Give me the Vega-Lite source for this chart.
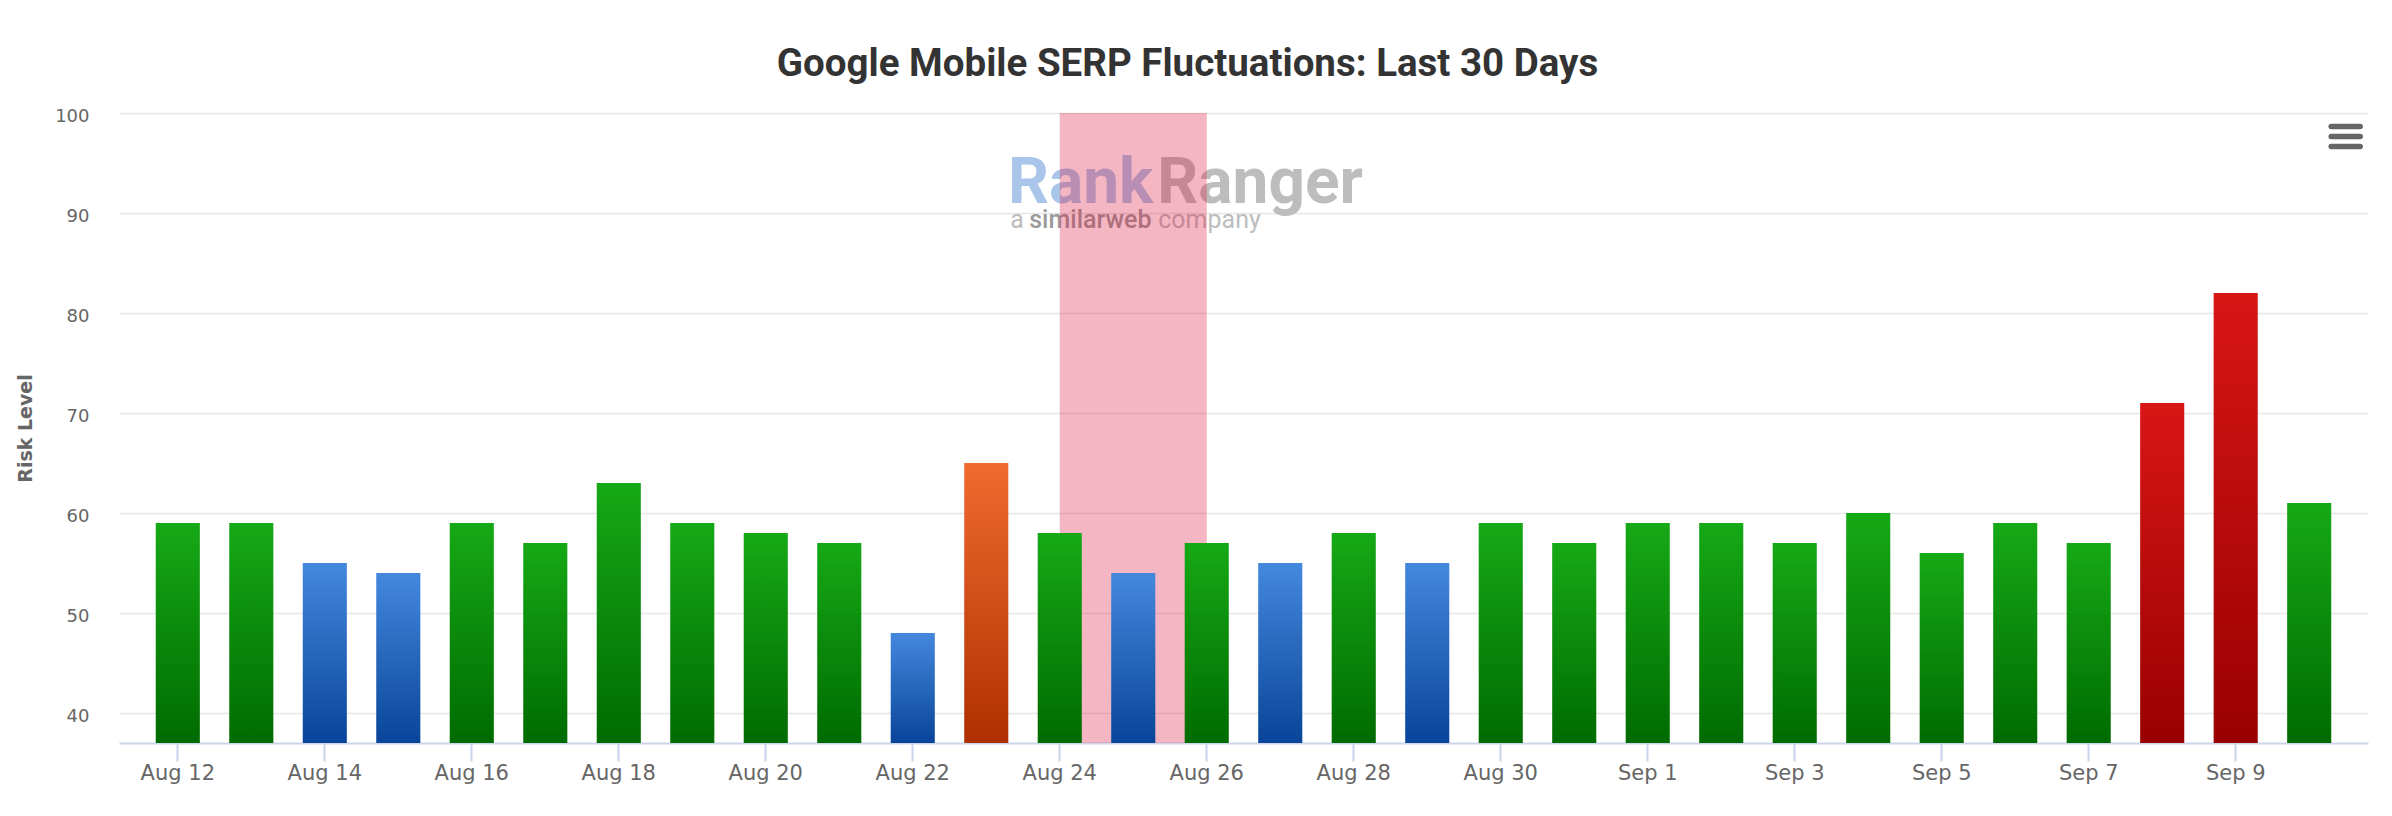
{
  "$schema": "https://vega.github.io/schema/vega-lite/v6.json",
  "width": 2249,
  "height": 630,
  "autosize": "none",
  "padding": {"left": 119, "top": 113, "right": 24, "bottom": 73},
  "background": "white",
  "title": {
    "text": "Google Mobile SERP Fluctuations: Last 30 Days",
    "font": "Roboto",
    "fontSize": 38.5,
    "fontWeight": "bold",
    "color": "#333333",
    "anchor": "middle",
    "frame": "group",
    "dx": -56,
    "offset": -7,
    "baseline": "alphabetic"
  },
  "config": {"view": {"stroke": null}},
  "datasets": {
    "serp": [
      {"date": "Aug 12", "value": 59, "risk": "medium"},
      {"date": "Aug 13", "value": 59, "risk": "medium"},
      {"date": "Aug 14", "value": 55, "risk": "low"},
      {"date": "Aug 15", "value": 54, "risk": "low"},
      {"date": "Aug 16", "value": 59, "risk": "medium"},
      {"date": "Aug 17", "value": 57, "risk": "medium"},
      {"date": "Aug 18", "value": 63, "risk": "medium"},
      {"date": "Aug 19", "value": 59, "risk": "medium"},
      {"date": "Aug 20", "value": 58, "risk": "medium"},
      {"date": "Aug 21", "value": 57, "risk": "medium"},
      {"date": "Aug 22", "value": 48, "risk": "low"},
      {"date": "Aug 23", "value": 65, "risk": "high"},
      {"date": "Aug 24", "value": 58, "risk": "medium"},
      {"date": "Aug 25", "value": 54, "risk": "low"},
      {"date": "Aug 26", "value": 57, "risk": "medium"},
      {"date": "Aug 27", "value": 55, "risk": "low"},
      {"date": "Aug 28", "value": 58, "risk": "medium"},
      {"date": "Aug 29", "value": 55, "risk": "low"},
      {"date": "Aug 30", "value": 59, "risk": "medium"},
      {"date": "Aug 31", "value": 57, "risk": "medium"},
      {"date": "Sep 1", "value": 59, "risk": "medium"},
      {"date": "Sep 2", "value": 59, "risk": "medium"},
      {"date": "Sep 3", "value": 57, "risk": "medium"},
      {"date": "Sep 4", "value": 60, "risk": "medium"},
      {"date": "Sep 5", "value": 56, "risk": "medium"},
      {"date": "Sep 6", "value": 59, "risk": "medium"},
      {"date": "Sep 7", "value": 57, "risk": "medium"},
      {"date": "Sep 8", "value": 71, "risk": "very high"},
      {"date": "Sep 9", "value": 82, "risk": "very high"},
      {"date": "Sep 10", "value": 61, "risk": "medium"}
    ],
    "band": [{"from": "Aug 24", "to": "Aug 26"}]
  },
  "layer": [
    {
      "data": {"values": [{}]},
      "mark": {"type": "text", "text": "Rank", "font": "Roboto", "fontSize": 64, "fontWeight": "bold", "color": "#a9c6ea", "align": "right", "baseline": "alphabetic", "dx": 20},
      "encoding": {
        "x": {"datum": "Aug 25", "type": "nominal", "scale": {"type": "band", "domain": ["Aug 12","Aug 13","Aug 14","Aug 15","Aug 16","Aug 17","Aug 18","Aug 19","Aug 20","Aug 21","Aug 22","Aug 23","Aug 24","Aug 25","Aug 26","Aug 27","Aug 28","Aug 29","Aug 30","Aug 31","Sep 1","Sep 2","Sep 3","Sep 4","Sep 5","Sep 6","Sep 7","Sep 8","Sep 9","Sep 10"], "paddingInner": 0.4, "paddingOuter": 0.5}},
        "y": {"datum": 91, "type": "quantitative", "scale": {"domain": [37, 100], "nice": false, "zero": false}}
      }
    },
    {
      "data": {"values": [{}]},
      "mark": {"type": "text", "text": "Ranger", "font": "Roboto", "fontSize": 64, "fontWeight": "bold", "color": "#bdbdbd", "align": "left", "baseline": "alphabetic", "dx": 24},
      "encoding": {
        "x": {"datum": "Aug 25", "type": "nominal"},
        "y": {"datum": 91, "type": "quantitative"}
      }
    },
    {
      "data": {"values": [{}]},
      "mark": {"type": "text", "text": "a", "font": "Roboto", "fontSize": 25, "color": "#bdbdbd", "align": "left", "baseline": "alphabetic", "dx": -123},
      "encoding": {
        "x": {"datum": "Aug 25", "type": "nominal"},
        "y": {"datum": 88.5, "type": "quantitative"}
      }
    },
    {
      "data": {"values": [{}]},
      "mark": {"type": "text", "text": "similarweb", "font": "Roboto", "fontSize": 25, "fontWeight": 500, "color": "#9a9a9a", "align": "left", "baseline": "alphabetic", "dx": -104},
      "encoding": {
        "x": {"datum": "Aug 25", "type": "nominal"},
        "y": {"datum": 88.5, "type": "quantitative"}
      }
    },
    {
      "data": {"values": [{}]},
      "mark": {"type": "text", "text": "company", "font": "Roboto", "fontSize": 25, "color": "#bdbdbd", "align": "left", "baseline": "alphabetic", "dx": 25},
      "encoding": {
        "x": {"datum": "Aug 25", "type": "nominal"},
        "y": {"datum": 88.5, "type": "quantitative"}
      }
    },
    {
      "data": {"name": "band"},
      "mark": {"type": "rect", "color": "#dc143c", "opacity": 0.31},
      "encoding": {
        "x": {"field": "from", "type": "nominal"},
        "x2": {"field": "to"},
        "y": {"datum": 100, "type": "quantitative"},
        "y2": {"datum": 37}
      }
    },
    {
      "data": {"name": "serp"},
      "transform": [{"filter": "datum.risk === 'medium'"}],
      "mark": {"type": "bar", "color": {"gradient": "linear", "x1": 0, "y1": 0, "x2": 0, "y2": 1, "stops": [{"offset": 0, "color": "#16a916"}, {"offset": 1, "color": "#006b00"}]}},
      "encoding": {
        "x": {"field": "date", "type": "nominal", "axis": {"title": null, "labelAngle": 0, "bandPosition": 0.5, "tickBand": "center", "values": ["Aug 12","Aug 14","Aug 16","Aug 18","Aug 20","Aug 22","Aug 24","Aug 26","Aug 28","Aug 30","Sep 1","Sep 3","Sep 5","Sep 7","Sep 9"], "labelFont": "DejaVu Sans", "labelFontSize": 21, "labelColor": "#666666", "labelAlign": "center", "labelPadding": 12, "ticks": true, "tickOpacity": 1, "tickSize": 18, "tickWidth": 2, "tickColor": "#c8d3ea", "domainColor": "#ccd6eb", "domainWidth": 2, "grid": false}},
        "y": {"field": "value", "type": "quantitative", "scale": {"domain": [37, 100], "nice": false, "zero": false}, "axis": {"title": "Risk Level", "titleFont": "DejaVu Sans", "titleFontSize": 19, "titleFontWeight": "bold", "titleColor": "#666666", "titleX": -93.5, "titleBaseline": "middle", "titleAlign": "center", "values": [40, 50, 60, 70, 80, 90, 100], "labelFont": "DejaVu Sans", "labelFontSize": 18, "labelColor": "#666666", "labelPadding": 30, "labelOffset": 3, "ticks": false, "domain": false, "grid": true, "gridColor": "#e6e6e6", "gridWidth": 1.5}},
        "y2": {"datum": 37}
      }
    },
    {
      "data": {"name": "serp"},
      "transform": [{"filter": "datum.risk === 'low'"}],
      "mark": {"type": "bar", "color": {"gradient": "linear", "x1": 0, "y1": 0, "x2": 0, "y2": 1, "stops": [{"offset": 0, "color": "#4488dd"}, {"offset": 1, "color": "#08459a"}]}},
      "encoding": {
        "x": {"field": "date", "type": "nominal"},
        "y": {"field": "value", "type": "quantitative"},
        "y2": {"datum": 37}
      }
    },
    {
      "data": {"name": "serp"},
      "transform": [{"filter": "datum.risk === 'high'"}],
      "mark": {"type": "bar", "color": {"gradient": "linear", "x1": 0, "y1": 0, "x2": 0, "y2": 1, "stops": [{"offset": 0, "color": "#ef6b2f"}, {"offset": 1, "color": "#b02f00"}]}},
      "encoding": {
        "x": {"field": "date", "type": "nominal"},
        "y": {"field": "value", "type": "quantitative"},
        "y2": {"datum": 37}
      }
    },
    {
      "data": {"name": "serp"},
      "transform": [{"filter": "datum.risk === 'very high'"}],
      "mark": {"type": "bar", "color": {"gradient": "linear", "x1": 0, "y1": 0, "x2": 0, "y2": 1, "stops": [{"offset": 0, "color": "#d81616"}, {"offset": 1, "color": "#990000"}]}},
      "encoding": {
        "x": {"field": "date", "type": "nominal"},
        "y": {"field": "value", "type": "quantitative"},
        "y2": {"datum": 37}
      }
    },
    {
      "data": {"values": [{}]},
      "mark": {"type": "rule", "color": "#666666", "strokeWidth": 5.5, "strokeCap": "round", "xOffset": 22, "x2Offset": 51},
      "encoding": {
        "x": {"datum": "Sep 10", "type": "nominal"},
        "x2": {"datum": "Sep 10"},
        "y": {"datum": 98.65, "type": "quantitative"}
      }
    },
    {
      "data": {"values": [{}]},
      "mark": {"type": "rule", "color": "#666666", "strokeWidth": 5.5, "strokeCap": "round", "xOffset": 22, "x2Offset": 51},
      "encoding": {
        "x": {"datum": "Sep 10", "type": "nominal"},
        "x2": {"datum": "Sep 10"},
        "y": {"datum": 97.65, "type": "quantitative"}
      }
    },
    {
      "data": {"values": [{}]},
      "mark": {"type": "rule", "color": "#666666", "strokeWidth": 5.5, "strokeCap": "round", "xOffset": 22, "x2Offset": 51},
      "encoding": {
        "x": {"datum": "Sep 10", "type": "nominal"},
        "x2": {"datum": "Sep 10"},
        "y": {"datum": 96.65, "type": "quantitative"}
      }
    }
  ]
}
